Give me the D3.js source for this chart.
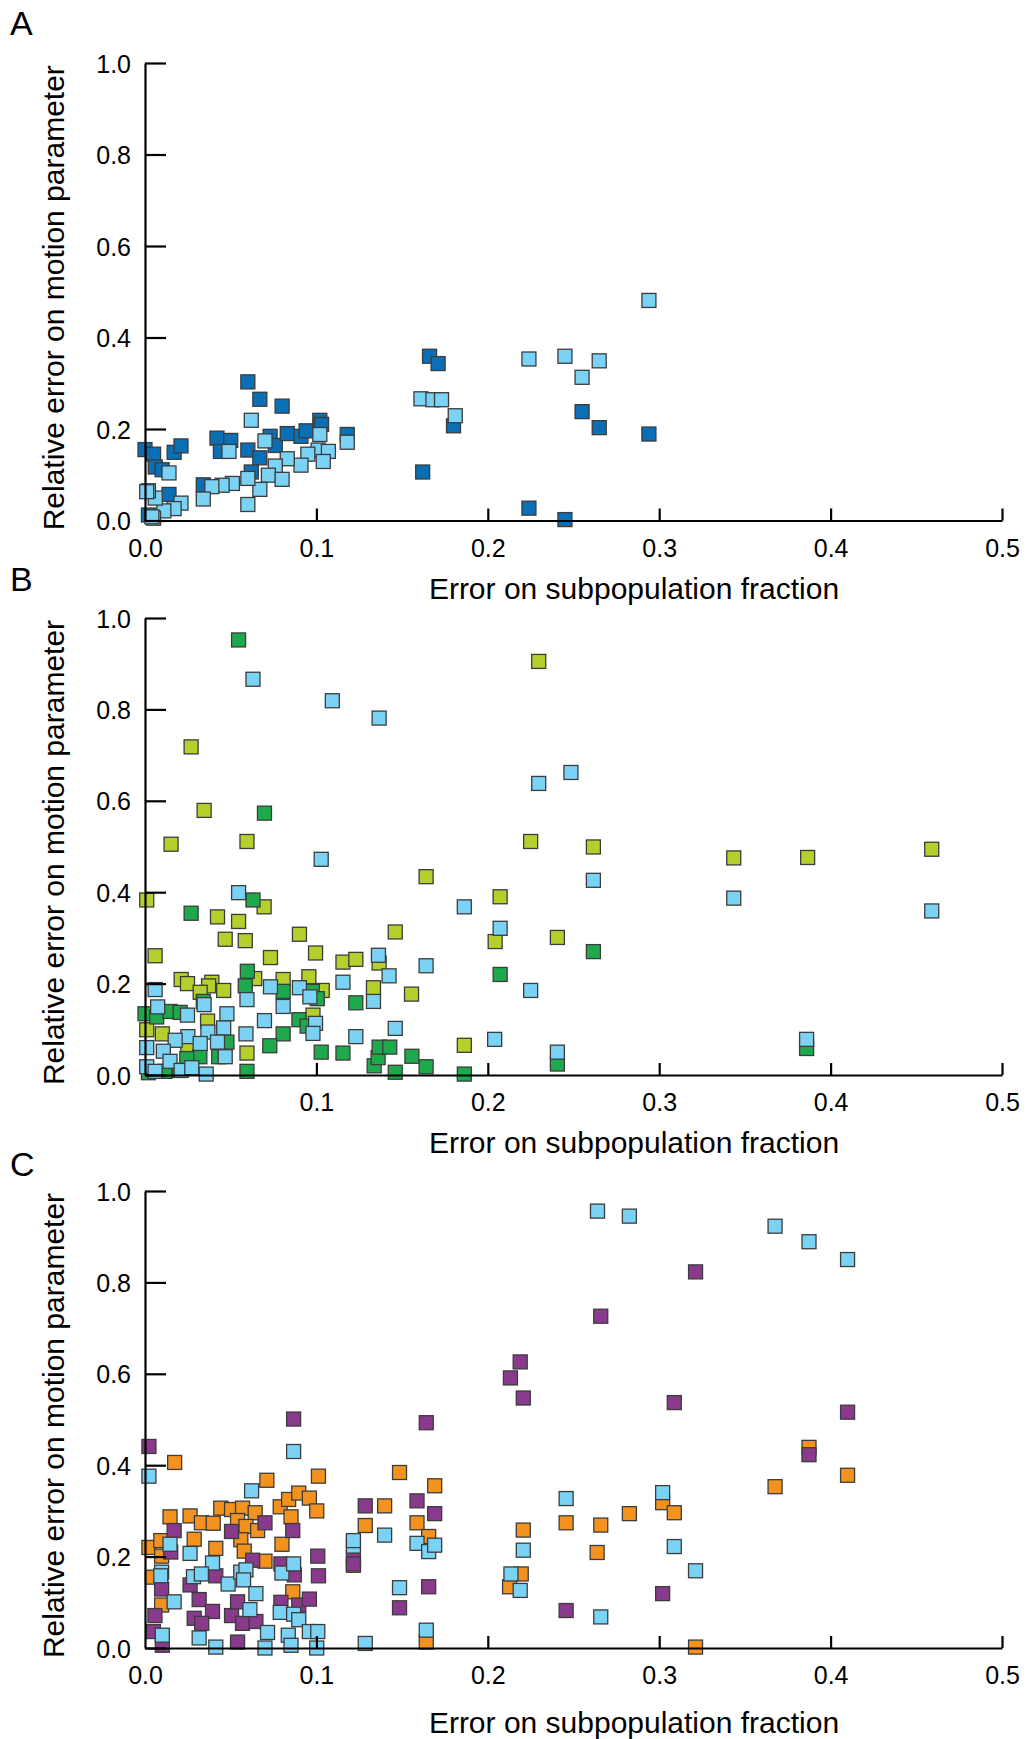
<!DOCTYPE html>
<html>
<head>
<meta charset="utf-8">
<script src="https://cdn.jsdelivr.net/npm/d3@7"></script>
<style>
  html, body { margin: 0; padding: 0; background: #fff; }
  svg { display: block; font-family: "Liberation Sans", Arial, sans-serif; }
</style>
</head>
<body>
<svg id="chart" width="1027" height="1739"></svg>
<script>
// ---------- DATA ----------
const xTicks = [0, 0.1, 0.2, 0.3, 0.4, 0.5];
const yTicks = [0, 0.2, 0.4, 0.6, 0.8, 1.0];
const xTitle = "Error on subpopulation fraction";
const yTitle = "Relative error on motion parameter";
const panelLetters = ["A", "B", "C"];

// Panel A
const aDark = [[0.000,0.155],[0.005,0.145],[0.006,0.117],[0.010,0.111],[0.017,0.149],[0.021,0.163],[0.014,0.057],[0.002,0.012],[0.042,0.180],[0.050,0.175],[0.044,0.151],[0.060,0.303],[0.067,0.265],[0.080,0.250],[0.060,0.154],[0.067,0.137],[0.062,0.106],[0.073,0.184],[0.076,0.164],[0.083,0.190],[0.091,0.184],[0.094,0.196],[0.102,0.219],[0.103,0.210],[0.118,0.188],[0.166,0.359],[0.171,0.343],[0.180,0.207],[0.162,0.106],[0.034,0.078],[0.224,0.027],[0.245,0.002],[0.255,0.238],[0.265,0.203],[0.294,0.189]];
const aLight = [[0.062,0.219],[0.070,0.174],[0.102,0.188],[0.101,0.154],[0.107,0.151],[0.104,0.129],[0.095,0.145],[0.091,0.121],[0.083,0.135],[0.076,0.119],[0.072,0.099],[0.080,0.090],[0.067,0.068],[0.060,0.092],[0.060,0.035],[0.051,0.081],[0.045,0.077],[0.039,0.074],[0.049,0.151],[0.034,0.047],[0.014,0.104],[0.021,0.038],[0.017,0.026],[0.011,0.021],[0.006,0.049],[0.002,0.065],[0.001,0.063],[0.005,0.005],[0.004,0.008],[0.118,0.171],[0.161,0.266],[0.168,0.264],[0.173,0.264],[0.181,0.229],[0.224,0.353],[0.245,0.359],[0.265,0.349],[0.255,0.313],[0.294,0.481]];

// Panel B
const bYellow = [[0.0269,0.718],[0.0345,0.579],[0.0152,0.505],[0.0595,0.511],[0.001,0.383],[0.0423,0.346],[0.0546,0.336],[0.0695,0.368],[0.0468,0.297],[0.0585,0.294],[0.0901,0.308],[0.164,0.434],[0.2072,0.390],[0.146,0.313],[0.0059,0.261],[0.0732,0.257],[0.0995,0.267],[0.1155,0.247],[0.123,0.253],[0.1366,0.245],[0.0211,0.209],[0.0248,0.200],[0.039,0.203],[0.0371,0.195],[0.0322,0.181],[0.0459,0.185],[0.064,0.211],[0.0806,0.209],[0.0956,0.215],[0.1034,0.185],[0.1333,0.191],[0.1555,0.177],[0.0365,0.118],[0.098,0.131],[0.001,0.099],[0.0101,0.090],[0.025,0.064],[0.0595,0.048],[0.1863,0.065],[0.2297,0.905],[0.225,0.511],[0.2616,0.499],[0.3435,0.475],[0.3866,0.476],[0.459,0.494],[0.2406,0.301],[0.2043,0.292]];
const bGreen = [[0.0546,0.952],[0.0697,0.573],[0.0269,0.354],[0.063,0.383],[0.0597,0.227],[0.0585,0.195],[0.0806,0.183],[0.0806,0.090],[0.0728,0.064],[0.0595,0.008],[0.0898,0.121],[0.0976,0.183],[0.1005,0.167],[0.1028,0.050],[0.1155,0.048],[0.123,0.158],[0.1337,0.020],[0.136,0.038],[0.1366,0.061],[0.1428,0.061],[0.146,0.006],[0.1557,0.041],[0.164,0.018],[0.1863,0.002],[0.2072,0.220],[0.000,0.134],[0.0068,0.127],[0.0146,0.139],[0.0205,0.137],[0.034,0.161],[0.032,0.040],[0.0244,0.036],[0.043,0.040],[0.0478,0.072],[0.0117,0.008],[0.0946,0.107],[0.2616,0.270],[0.2406,0.024],[0.386,0.058],[0.002,0.005],[0.020,0.010]];
const bBlue = [[0.063,0.866],[0.1093,0.819],[0.1366,0.781],[0.1028,0.472],[0.0546,0.399],[0.1863,0.368],[0.2072,0.321],[0.164,0.239],[0.1362,0.262],[0.1424,0.217],[0.1155,0.203],[0.1333,0.161],[0.146,0.102],[0.123,0.084],[0.204,0.078],[0.0059,0.187],[0.0074,0.149],[0.0248,0.131],[0.0345,0.154],[0.0478,0.134],[0.0459,0.103],[0.0595,0.165],[0.0589,0.090],[0.0697,0.119],[0.0732,0.193],[0.0806,0.150],[0.0901,0.191],[0.0962,0.171],[0.0995,0.113],[0.098,0.091],[0.0367,0.094],[0.025,0.084],[0.0176,0.076],[0.0322,0.069],[0.0423,0.072],[0.0468,0.040],[0.001,0.060],[0.0107,0.052],[0.0146,0.030],[0.0211,0.010],[0.0273,0.016],[0.0357,0.002],[0.001,0.018],[0.0059,0.008],[0.2297,0.638],[0.2485,0.662],[0.2616,0.426],[0.3435,0.387],[0.459,0.359],[0.225,0.185],[0.2406,0.050],[0.386,0.078]];

// Panel C
const cOrange = [[0.0173,0.406],[0.0023,0.220],[0.0092,0.235],[0.0097,0.201],[0.0146,0.287],[0.0263,0.289],[0.0329,0.274],[0.0398,0.273],[0.0287,0.238],[0.0413,0.218],[0.0043,0.155],[0.0097,0.094],[0.0442,0.306],[0.0505,0.303],[0.0569,0.306],[0.0643,0.296],[0.054,0.279],[0.0589,0.266],[0.0657,0.257],[0.0559,0.237],[0.0579,0.212],[0.070,0.190],[0.0711,0.367],[0.0789,0.309],[0.0838,0.325],[0.0897,0.339],[0.0959,0.328],[0.1002,0.300],[0.1012,0.376],[0.0852,0.287],[0.0799,0.227],[0.0862,0.123],[0.1285,0.268],[0.1398,0.311],[0.1485,0.384],[0.169,0.355],[0.1587,0.274],[0.1655,0.244],[0.1216,0.181],[0.1641,0.013],[0.3874,0.439],[0.4099,0.378],[0.3676,0.353],[0.302,0.318],[0.3088,0.296],[0.2826,0.294],[0.2457,0.274],[0.2659,0.269],[0.2207,0.258],[0.2638,0.209],[0.2195,0.162],[0.2127,0.134],[0.3212,0.002]];
const cPurple = [[0.0023,0.441],[0.0867,0.501],[0.1641,0.493],[0.017,0.257],[0.015,0.210],[0.0505,0.255],[0.070,0.274],[0.0862,0.257],[0.0628,0.192],[0.0413,0.158],[0.0263,0.138],[0.0097,0.129],[0.0316,0.106],[0.0394,0.080],[0.0287,0.065],[0.0331,0.054],[0.0058,0.071],[0.0049,0.036],[0.0101,0.006],[0.0505,0.071],[0.054,0.101],[0.0569,0.054],[0.0647,0.058],[0.054,0.013],[0.0793,0.100],[0.0897,0.094],[0.0959,0.107],[0.0871,0.160],[0.1012,0.158],[0.1008,0.201],[0.0793,0.184],[0.1216,0.198],[0.1216,0.184],[0.1285,0.311],[0.1587,0.322],[0.169,0.294],[0.1655,0.134],[0.1485,0.088],[0.2132,0.591],[0.2189,0.626],[0.2207,0.547],[0.2659,0.726],[0.3212,0.823],[0.3088,0.537],[0.4099,0.516],[0.3874,0.423],[0.302,0.119],[0.2457,0.082]];
const cBlue = [[0.0023,0.376],[0.0867,0.430],[0.0622,0.344],[0.0146,0.227],[0.0263,0.207],[0.0394,0.186],[0.0097,0.166],[0.0092,0.158],[0.017,0.101],[0.0283,0.156],[0.0329,0.162],[0.0485,0.140],[0.0559,0.166],[0.0589,0.171],[0.0575,0.149],[0.0647,0.119],[0.0612,0.084],[0.0799,0.164],[0.0867,0.184],[0.0789,0.078],[0.0867,0.074],[0.0897,0.062],[0.0715,0.034],[0.0836,0.028],[0.0959,0.036],[0.1008,0.036],[0.0101,0.028],[0.0316,0.022],[0.0413,0.002],[0.070,0.000],[0.0852,0.006],[0.1002,0.000],[0.1216,0.223],[0.1216,0.235],[0.1398,0.247],[0.1587,0.229],[0.1655,0.211],[0.169,0.225],[0.1485,0.132],[0.1285,0.010],[0.1641,0.039],[0.2135,0.162],[0.264,0.956],[0.2826,0.945],[0.3676,0.923],[0.3874,0.889],[0.4099,0.850],[0.302,0.340],[0.2457,0.327],[0.2207,0.214],[0.3088,0.222],[0.3212,0.169],[0.2189,0.126],[0.2659,0.068]];

// ---------- STYLE / LAYOUT ----------
const colors = {
  darkBlue: "#0b6fb6", lightBlue: "#7ad2f4",
  green: "#1eaa4c", yellow: "#b6cf2d",
  orange: "#f3921f", purple: "#8a3a8c"
};
const panels = [
  { letter: panelLetters[0], yTop: 63, yBot: 520.5, letterY: 35, titleY: 588,
    showZero: true, series: [[aDark, colors.darkBlue], [aLight, colors.lightBlue]] },
  { letter: panelLetters[1], yTop: 618, yBot: 1075, letterY: 591, titleY: 1142,
    showZero: false, series: [[bYellow, colors.yellow], [bGreen, colors.green], [bBlue, colors.lightBlue]] },
  { letter: panelLetters[2], yTop: 1191, yBot: 1648, letterY: 1176, titleY: 1722,
    showZero: true, series: [[cOrange, colors.orange], [cPurple, colors.purple], [cBlue, colors.lightBlue]] }
];
const xLeft = 145, xRight = 1002;
const markerSize = 14;

const svg = d3.select("#chart");
const fmt = d3.format(".1f");

panels.forEach(p => {
  const x = d3.scaleLinear().domain([0, 0.5]).range([xLeft, xRight]);
  const y = d3.scaleLinear().domain([0, 1]).range([p.yBot, p.yTop]);
  const g = svg.append("g");

  // Panel letter
  g.append("text").attr("x", 10).attr("y", p.letterY)
    .attr("font-size", 34).attr("fill", "#000").text(p.letter);

  // Markers
  p.series.forEach(([data, col]) => {
    g.append("g").selectAll("rect").data(data).join("rect")
      .attr("x", d => x(d[0]) - markerSize / 2)
      .attr("y", d => y(d[1]) - markerSize / 2)
      .attr("width", markerSize).attr("height", markerSize)
      .attr("fill", col).attr("stroke", "#3c3c3c").attr("stroke-width", 1.3);
  });

  // X axis
  const xAxis = d3.axisBottom(x).tickValues(xTicks).tickSize(0)
    .tickFormat(d => (d === 0 && !p.showZero) ? "" : fmt(d));
  const gx = g.append("g").attr("transform", `translate(0,${p.yBot})`).call(xAxis);
  gx.select(".domain").attr("stroke", "#000").attr("stroke-width", 2.2);
  gx.selectAll(".tick line").remove();
  gx.selectAll(".tick").filter(d => d > 0).append("line")
    .attr("y1", 0).attr("y2", -12).attr("stroke", "#000").attr("stroke-width", 2.2);
  gx.selectAll(".tick text").attr("font-size", 25).attr("fill", "#000")
    .attr("font-family", "Liberation Sans, Arial, sans-serif")
    .attr("y", 27).attr("dy", "0.36em");

  // Y axis
  const yAxis = d3.axisLeft(y).tickValues(yTicks).tickSize(0).tickFormat(fmt);
  const gy = g.append("g").attr("transform", `translate(${xLeft},0)`).call(yAxis);
  gy.select(".domain").attr("stroke", "#000").attr("stroke-width", 2.2);
  gy.selectAll(".tick line").remove();
  gy.selectAll(".tick").append("line")
    .attr("x1", 0).attr("x2", 21).attr("stroke", "#000").attr("stroke-width", 2.2);
  gy.selectAll(".tick text").attr("font-size", 25).attr("fill", "#000")
    .attr("font-family", "Liberation Sans, Arial, sans-serif")
    .attr("x", -14).attr("dy", "0.36em");

  // Axis titles
  g.append("text").attr("x", 634).attr("y", p.titleY).attr("dy", "0.36em")
    .attr("text-anchor", "middle").attr("font-size", 30).attr("fill", "#000").text(xTitle);
  const cy = (p.yTop + p.yBot) / 2 + 6;
  g.append("text").attr("transform", `translate(53,${cy}) rotate(-90)`)
    .attr("dy", "0.36em").attr("text-anchor", "middle")
    .attr("font-size", 30).attr("fill", "#000").text(yTitle);
});
</script>
</body>
</html>
